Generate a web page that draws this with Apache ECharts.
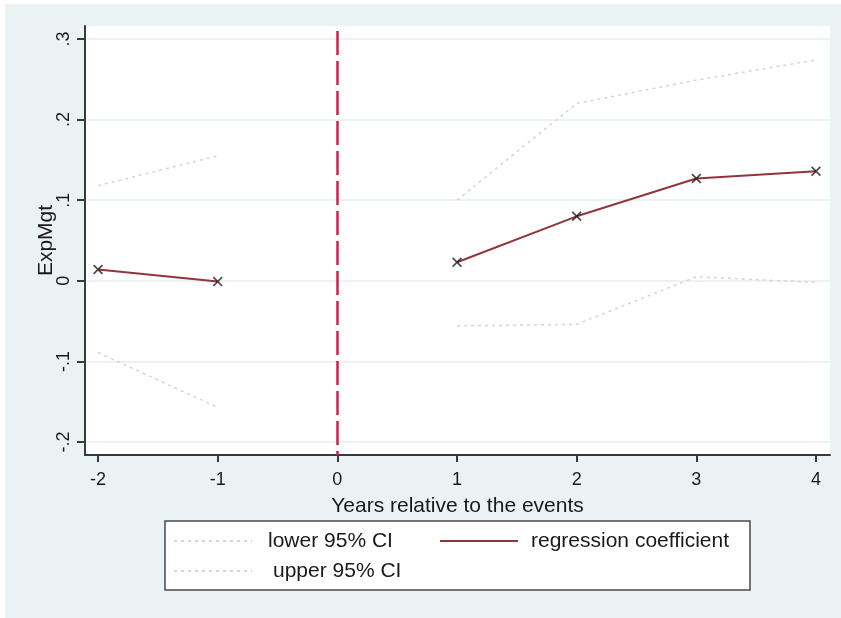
<!DOCTYPE html>
<html>
<head>
<meta charset="utf-8">
<script src="https://cdn.jsdelivr.net/npm/echarts@6/dist/echarts.min.js"></script>
<style>
  html, body { margin: 0; padding: 0; background: #ffffff; width: 841px; height: 618px; overflow: hidden; }
  #chart { position: absolute; left: 5px; top: 4px; width: 836px; height: 614px; }
</style>
</head>
<body>
<div id="chart"></div>
<script>
// ---- data ----
const years   = [-2, -1, 0, 1, 2, 3, 4];
const coef    = [0.014, -0.001, null, 0.023, 0.080, 0.127, 0.136];
const upperCI = [0.118, 0.155, null, 0.100, 0.220, 0.249, 0.274];
const lowerCI = [-0.089, -0.157, null, -0.056, -0.054, 0.005, -0.002];
const xTicks  = [-2, -1, 0, 1, 2, 3, 4];
const yTicks  = [-0.2, -0.1, 0, 0.1, 0.2, 0.3];
const eventYear = 0;
const eventLineTop = 0.31;
const xRange = [-2.109, 4.117];
const yRange = [-0.2161, 0.3161];

const names = { lower: 'lower 95% CI', upper: 'upper 95% CI', coef: 'regression coefficient' };

const pairs = (vals) => years.map((y, i) => [y, vals[i] === null ? '-' : vals[i]]);
const yFmt = (v) => {
  const r = Math.round(v * 10) / 10;
  if (r === 0) return '0';
  return (r < 0 ? '-' : '') + Math.abs(r).toFixed(1).replace(/^0/, '');
};

const FONT = 'Liberation Sans, Arial, sans-serif';
const xMarker = 'path://M0,1.2L1.2,0L5,3.8L8.8,0L10,1.2L6.2,5L10,8.8L8.8,10L5,6.2L1.2,10L0,8.8L3.8,5Z';

const chart = echarts.init(document.getElementById('chart'), null, { renderer: 'canvas' });

const legendText = (padLeft) => ({ fontFamily: FONT, fontSize: 21, color: '#1a1a1a', lineHeight: 24, padding: [0, 0, 0, padLeft] });
const legendBase = {
  orient: 'vertical',
  padding: 0,
  itemWidth: 78,
  itemHeight: 14,
  selectedMode: false,
  itemStyle: { opacity: 0 }
};

chart.setOption({
  backgroundColor: '#eaf2f3',
  animation: false,
  grid: {
    left: 80, right: 11, top: 22, bottom: 163,
    show: true, backgroundColor: '#ffffff', borderWidth: 0
  },
  xAxis: {
    type: 'value',
    min: xRange[0], max: xRange[1],
    name: 'Years relative to the events',
    nameLocation: 'middle',
    nameGap: 41,
    nameMoveOverlap: false,
    nameTextStyle: { fontFamily: FONT, fontSize: 21, color: '#1a1a1a' },
    axisLine: { show: true, onZero: false, lineStyle: { color: '#3a3a3a', width: 2 } },
    axisTick: { show: true, length: 7, customValues: xTicks, lineStyle: { color: '#3a3a3a', width: 2 } },
    axisLabel: { customValues: xTicks, fontFamily: FONT, fontSize: 18, color: '#1a1a1a', margin: 16, formatter: (v) => String(v) },
    splitLine: { show: false }
  },
  yAxis: {
    type: 'value',
    min: yRange[0], max: yRange[1],
    name: 'ExpMgt',
    nameLocation: 'middle',
    nameGap: 28,
    nameMoveOverlap: false,
    nameTextStyle: { fontFamily: FONT, fontSize: 21, color: '#1a1a1a' },
    axisLine: { show: true, onZero: false, lineStyle: { color: '#3a3a3a', width: 2 } },
    axisTick: { show: true, length: 8, customValues: yTicks, lineStyle: { color: '#3a3a3a', width: 2 } },
    axisLabel: { customValues: yTicks, rotate: 90, fontFamily: FONT, fontSize: 18, color: '#1a1a1a', margin: 12, formatter: yFmt },
    splitLine: { show: true, lineStyle: { color: '#eaf2f3', width: 2 } }
  },
  legend: [
    Object.assign({}, legendBase, { data: [names.lower], left: 168, top: 525, textStyle: legendText(11) }),
    Object.assign({}, legendBase, { data: [names.upper], left: 168, top: 555, textStyle: legendText(16) }),
    Object.assign({}, legendBase, { data: [names.coef], left: 434, top: 525, textStyle: legendText(8) })
  ],
  graphic: [{
    type: 'rect', z: -1, silent: true,
    shape: { x: 160, y: 517, width: 585, height: 69 },
    style: { fill: '#ffffff', stroke: '#4a4a4a', lineWidth: 1.5 }
  }],
  series: [
    {
      name: 'event', type: 'line', data: [], silent: true, z: 3,
      markLine: {
        silent: true, symbol: 'none', label: { show: false },
        lineStyle: { color: '#d0204a', width: 2.5, type: [24, 6] },
        data: [[{ coord: [eventYear, eventLineTop] }, { coord: [eventYear, yRange[0]] }]]
      }
    },
    {
      name: names.lower, type: 'line', data: pairs(lowerCI), symbol: 'none', z: 4,
      connectNulls: false,
      lineStyle: { color: '#d4d4d4', width: 1.5, type: [3, 4] },
      itemStyle: { color: '#d4d4d4' }
    },
    {
      name: names.upper, type: 'line', data: pairs(upperCI), symbol: 'none', z: 4,
      connectNulls: false,
      lineStyle: { color: '#d4d4d4', width: 1.5, type: [3, 4] },
      itemStyle: { color: '#d4d4d4' }
    },
    {
      name: names.coef, type: 'line', data: pairs(coef), symbol: 'none', z: 5,
      connectNulls: false,
      lineStyle: { color: '#93343c', width: 2 },
      itemStyle: { color: '#93343c' }
    },
    {
      name: 'coef markers', type: 'scatter', data: pairs(coef).filter(p => p[1] !== '-'),
      symbol: xMarker, symbolSize: 10, z: 6,
      itemStyle: { color: '#1e1e1e' }
    }
  ]
});
</script>
</body>
</html>
